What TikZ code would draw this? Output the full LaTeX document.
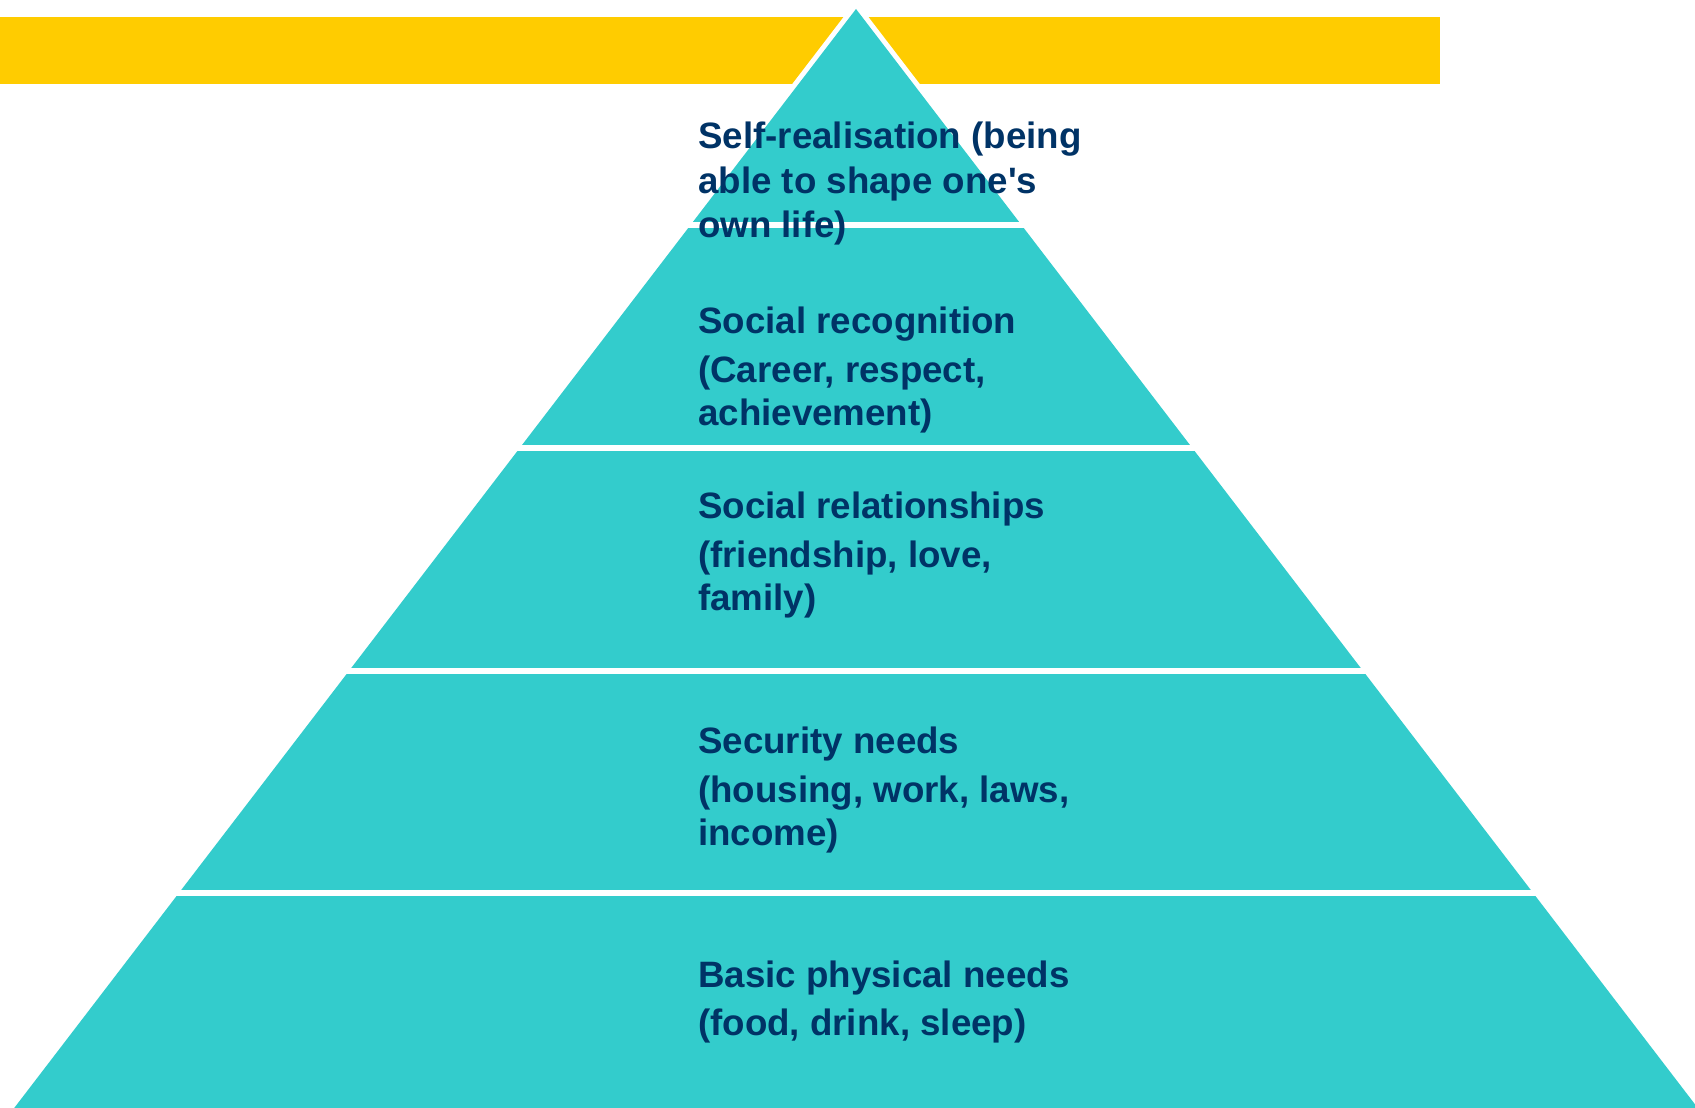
\documentclass[tikz,border=0pt]{standalone}
\usepackage{fontspec}
\setmainfont{Liberation Sans}
\definecolor{teal}{RGB}{51,204,204}
\definecolor{gold}{RGB}{255,204,0}
\definecolor{navy}{RGB}{0,51,102}
\tikzset{
  lbl/.style={anchor=base west, inner sep=0pt, text=navy, font=\fontsize{36.7}{44}\selectfont\bfseries},
  sep/.style={draw=white, line width=6pt},
}
\begin{document}
\begin{tikzpicture}[x=1pt,y=-1pt]
\useasboundingbox (0,0) rectangle (1695,1108);
\clip (0,0) rectangle (1695,1108);
% yellow bar
\fill[gold] (0,17.5) rectangle (1440,84);
% pyramid
\coordinate (apex) at (856,9);
\coordinate (bl) at (14.2,1108);
\coordinate (br) at (1697.8,1108);
\draw[white, line width=10pt, line join=round] (apex) -- (bl) -- (br) -- cycle;
\fill[teal] (apex) -- (bl) -- (br) -- cycle;
% separators
\coordinate (s1l) at (0,225);   \coordinate (s1r) at (1695,225);
\coordinate (s2l) at (0,448);   \coordinate (s2r) at (1695,448);
\coordinate (s3l) at (0,670.5); \coordinate (s3r) at (1695,670.5);
\coordinate (s4l) at (0,893);   \coordinate (s4r) at (1695,893);
\draw[sep] (s1l) -- (s1r);
\draw[sep] (s2l) -- (s2r);
\draw[sep] (s3l) -- (s3r);
\draw[sep] (s4l) -- (s4r);
% labels
\node[lbl] (t1a) at (698,148) {Self-realisation (being};
\node[lbl] (t1b) at (698,193) {able to shape one\textquotesingle s};
\node[lbl] (t1c) at (698,237) {own life)};
\node[lbl] (t2a) at (698,333) {Social recognition};
\node[lbl] (t2b) at (698,382) {(Career, respect,};
\node[lbl] (t2c) at (698,425) {achievement)};
\node[lbl] (t3a) at (698,518) {Social relationships};
\node[lbl] (t3b) at (698,567) {(friendship, love,};
\node[lbl] (t3c) at (698,610) {family)};
\node[lbl] (t4a) at (698,753) {Security needs};
\node[lbl] (t4b) at (698,802) {(housing, work, laws,};
\node[lbl] (t4c) at (698,845) {income)};
\node[lbl] (t5a) at (698,987) {Basic physical needs};
\node[lbl] (t5b) at (698,1035) {(food, drink, sleep)};
\end{tikzpicture}
\end{document}
